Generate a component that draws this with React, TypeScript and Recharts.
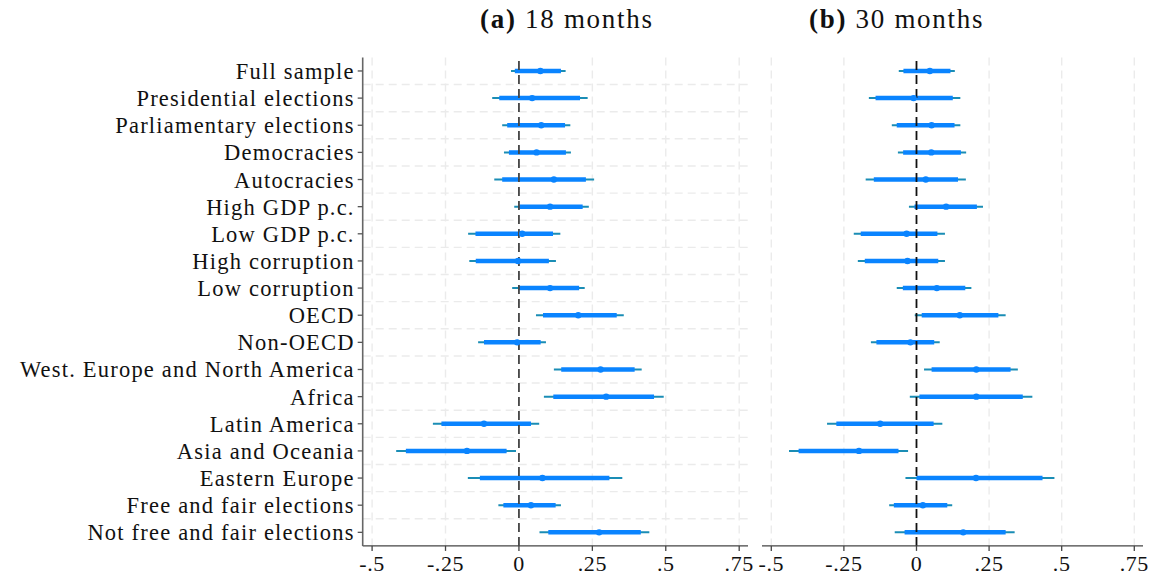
import React from 'react';
import { ScatterChart, Scatter, XAxis, YAxis, ErrorBar, ReferenceLine, CartesianGrid } from 'recharts';

const categories = [
  'Full sample',
  'Presidential elections',
  'Parliamentary elections',
  'Democracies',
  'Autocracies',
  'High GDP p.c.',
  'Low GDP p.c.',
  'High corruption',
  'Low corruption',
  'OECD',
  'Non-OECD',
  'West. Europe and North America',
  'Africa',
  'Latin America',
  'Asia and Oceania',
  'Eastern Europe',
  'Free and fair elections',
  'Not free and fair elections',
];

// Panel (a) 18 months
const pt18 = [0.073, 0.045, 0.076, 0.060, 0.119, 0.106, 0.011, -0.003, 0.106, 0.202, -0.006, 0.278, 0.297, -0.119, -0.177, 0.080, 0.041, 0.273];
const lo95_18 = [-0.027, -0.091, -0.057, -0.051, -0.084, -0.016, -0.173, -0.169, -0.023, 0.058, -0.139, 0.119, 0.085, -0.293, -0.418, -0.174, -0.070, 0.070];
const hi95_18 = [0.159, 0.234, 0.175, 0.177, 0.256, 0.238, 0.141, 0.126, 0.224, 0.357, 0.092, 0.418, 0.493, 0.069, -0.010, 0.352, 0.143, 0.444];
const lo90_18 = [-0.014, -0.067, -0.040, -0.034, -0.057, 0.001, -0.148, -0.147, 0.000, 0.082, -0.119, 0.144, 0.117, -0.264, -0.385, -0.133, -0.053, 0.100];
const hi90_18 = [0.143, 0.208, 0.157, 0.160, 0.228, 0.217, 0.116, 0.102, 0.205, 0.333, 0.074, 0.394, 0.460, 0.041, -0.042, 0.308, 0.125, 0.415];

// Panel (b) 30 months
const pt30 = [0.046, -0.010, 0.052, 0.051, 0.032, 0.102, -0.034, -0.031, 0.070, 0.149, -0.021, 0.206, 0.206, -0.125, -0.198, 0.205, 0.022, 0.161];
const lo95_30 = [-0.061, -0.164, -0.085, -0.064, -0.175, -0.026, -0.216, -0.202, -0.068, -0.006, -0.157, 0.026, -0.023, -0.308, -0.439, -0.038, -0.094, -0.075];
const hi95_30 = [0.132, 0.151, 0.151, 0.171, 0.170, 0.229, 0.098, 0.098, 0.189, 0.307, 0.080, 0.349, 0.399, 0.089, -0.029, 0.475, 0.123, 0.338];
const lo90_30 = [-0.045, -0.141, -0.068, -0.046, -0.147, -0.007, -0.192, -0.178, -0.047, 0.018, -0.138, 0.052, 0.010, -0.276, -0.406, 0.000, -0.078, -0.041];
const hi90_30 = [0.117, 0.125, 0.131, 0.153, 0.143, 0.208, 0.072, 0.075, 0.168, 0.282, 0.061, 0.324, 0.366, 0.059, -0.062, 0.434, 0.106, 0.307];

const xTicks = [-0.5, -0.25, 0, 0.25, 0.5, 0.75];
const xTickLabels = ['-.5', '-.25', '0', '.25', '.5', '.75'];
const gridX = [-0.5, -0.25, 0.25, 0.5, 0.75];

const titles = [
  { bold: '(a)', rest: ' 18 months' },
  { bold: '(b)', rest: ' 30 months' },
];

const yTicks = categories.map((_, i) => i + 1);
const yMids = categories.slice(1).map((_, i) => i + 1.5);

function buildRows(pt: number[], lo95: number[], hi95: number[], lo90: number[], hi90: number[]) {
  return pt.map((p, i) => ({
    y: i + 1,
    pt: p,
    e95: [p - lo95[i], hi95[i] - p],
    e90: [p - lo90[i], hi90[i] - p],
  }));
}

const rows18 = buildRows(pt18, lo95_18, hi95_18, lo90_18, hi90_18);
const rows30 = buildRows(pt30, lo95_30, hi95_30, lo90_30, hi90_30);

const FONT = '"Liberation Serif", "DejaVu Serif", serif';
const DOMAIN: [number, number] = [-0.532, 0.78];

const Dot = (props: any) => {
  const { cx, cy } = props;
  if (cx == null || cy == null) return null;
  return <circle cx={cx} cy={cy} r={3.2} fill="#0a84ff" />;
};

function Panel({ rows, showLabels, width, margin, yWidth, zeroColor }: any) {
  return (
    <ScatterChart width={width} height={579} margin={margin}>
      <CartesianGrid
        horizontal={true}
        vertical={true}
        horizontalValues={yMids}
        verticalValues={gridX}
        stroke="#ebebeb"
        strokeWidth={1.4}
        strokeDasharray="8 5"
      />
      <XAxis
        type="number"
        dataKey="pt"
        domain={DOMAIN}
        allowDataOverflow
        ticks={xTicks}
        tickFormatter={(v: number) => xTickLabels[xTicks.indexOf(v)] ?? String(v)}
        height={33.1}
        tickSize={5}
        tickMargin={4}
        stroke="#444"
        tick={{ fill: '#111', fontSize: 22, fontFamily: FONT, letterSpacing: 0.6 }}
        axisLine={{ stroke: '#444', strokeWidth: 1.3 }}
        tickLine={{ stroke: '#444', strokeWidth: 1.3 }}
        interval={0}
      />
      <YAxis
        type="number"
        dataKey="y"
        domain={[0.5, 18.5]}
        reversed
        ticks={yTicks}
        interval={0}
        width={yWidth}
        tickSize={showLabels ? 5 : 0}
        tickMargin={showLabels ? 3 : 0}
        tick={showLabels ? { fill: '#111', fontSize: 22.5, fontFamily: FONT, letterSpacing: 1.2 } : false}
        tickLine={showLabels ? { stroke: '#555', strokeWidth: 1.3 } : false}
        axisLine={{ stroke: '#666', strokeWidth: 1.6 }}
        tickFormatter={(v: number) => categories[v - 1] ?? ''}
      />
      <Scatter data={rows} shape={Dot} isAnimationActive={false}>
        <ErrorBar dataKey="e95" direction="x" width={0} stroke="#1a8db5" strokeWidth={2} isAnimationActive={false} />
        <ErrorBar dataKey="e90" direction="x" width={0} stroke="#0a84ff" strokeWidth={4.5} isAnimationActive={false} />
      </Scatter>
      <ReferenceLine x={0} stroke={zeroColor} strokeWidth={1.8} strokeDasharray="9 5" />
    </ScatterChart>
  );
}

export default function App() {
  const titleStyle: React.CSSProperties = {
    position: 'absolute',
    top: 4,
    fontFamily: FONT,
    fontSize: 27,
    letterSpacing: 1.7,
    color: '#111',
    whiteSpace: 'nowrap',
  };
  return (
    <div style={{ position: 'absolute', left: 0, top: 0, width: 1154, height: 579, background: '#fff', overflow: 'hidden' }}>
      <div style={{ position: 'absolute', left: 0, top: 0 }}>
        <Panel rows={rows18} showLabels={true} width={760} yWidth={362.7} zeroColor="#444" margin={{ top: 57.4, right: 12, left: 0, bottom: 0 }} />
      </div>
      <div style={{ position: 'absolute', left: 752, top: 0 }}>
        <Panel rows={rows30} showLabels={false} width={402} yWidth={0} zeroColor="#111" margin={{ top: 57.4, right: 11, left: 10, bottom: 0 }} />
      </div>
      <div style={{ ...titleStyle, left: 480 }}>
        <b>{titles[0].bold}</b>{titles[0].rest}
      </div>
      <div style={{ ...titleStyle, left: 809 }}>
        <b>{titles[1].bold}</b>{titles[1].rest}
      </div>
    </div>
  );
}
